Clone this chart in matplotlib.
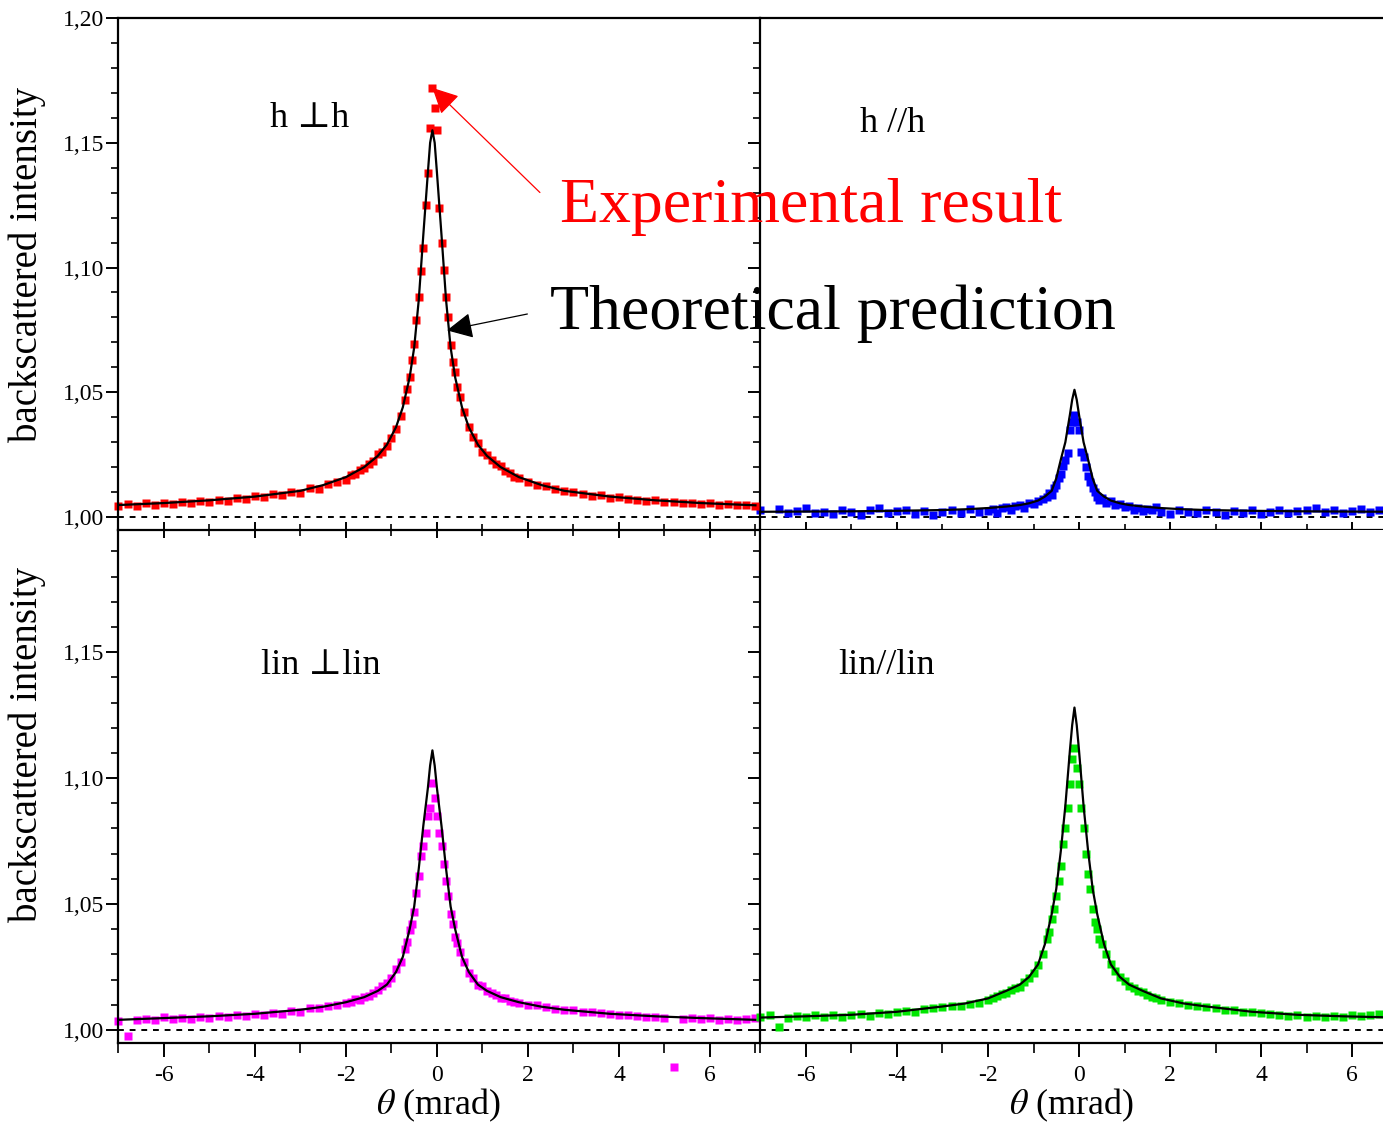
# Coherent backscattering cones: experiment vs theory, four polarisation channels
import matplotlib.pyplot as plt
from matplotlib.ticker import MultipleLocator, FuncFormatter
import numpy as np

# angles of the measured points (mrad), shared by the four channels
exp_theta = [-7.0, -6.8, -6.6, -6.4, -6.2, -6.0, -5.8, -5.6, -5.4, -5.2, -5.0, -4.8, -4.6,
             -4.4, -4.2, -4.0, -3.8, -3.6, -3.4, -3.2, -3.0, -2.8, -2.6, -2.4, -2.2,
             -2.0, -1.9, -1.8, -1.7, -1.6, -1.5, -1.4, -1.3, -1.2, -1.1, -1.0, -0.9, -0.8,
             -0.7, -0.65, -0.6, -0.55, -0.5, -0.45, -0.4, -0.35, -0.3, -0.25, -0.2, -0.15,
             -0.1, -0.05, 0.0, 0.05, 0.1, 0.15, 0.2, 0.25, 0.3, 0.35, 0.4, 0.45, 0.5,
             0.6, 0.7, 0.8, 0.9, 1.0, 1.1, 1.2, 1.3, 1.4, 1.5, 1.6, 1.7, 1.8,
             2.0, 2.2, 2.4, 2.6, 2.8, 3.0, 3.2, 3.4, 3.6, 3.8, 4.0, 4.2, 4.4, 4.6, 4.8,
             5.0, 5.2, 5.4, 5.6, 5.8, 6.0, 6.2, 6.4, 6.6, 6.8, 7.0]

exp_h_perp = [1.0045, 1.0052, 1.0046, 1.0055, 1.0050, 1.0058, 1.0053, 1.0061, 1.0057, 1.0066,
              1.0062, 1.0070, 1.0066, 1.0078, 1.0072, 1.0084, 1.0079, 1.0092, 1.0088, 1.0101,
              1.0098, 1.0116, 1.0113, 1.0133, 1.0140,
              1.0150, 1.0168, 1.0172, 1.0190, 1.0196, 1.0214, 1.0226, 1.0252, 1.0262, 1.0283,
              1.0318, 1.0352, 1.0405,
              1.0470, 1.0515, 1.0560, 1.0630, 1.0695, 1.0790, 1.0880, 1.0985, 1.1080, 1.1250,
              1.1380, 1.1560, 1.1720, 1.1640, 1.1550, 1.1240, 1.1100, 1.0990, 1.0880, 1.0800,
              1.0690, 1.0620, 1.0580, 1.0520, 1.0480,
              1.0420, 1.0360, 1.0322, 1.0296, 1.0262, 1.0250, 1.0228, 1.0212, 1.0205, 1.0186,
              1.0178, 1.0162, 1.0158,
              1.0142, 1.0128, 1.0125, 1.0112, 1.0104, 1.0100, 1.0092, 1.0085, 1.0088, 1.0078,
              1.0080, 1.0072, 1.0070, 1.0066, 1.0069, 1.0060, 1.0062, 1.0056, 1.0058, 1.0052,
              1.0056, 1.0049, 1.0052, 1.0047, 1.0050, 1.0044]

exp_h_par = [1.0028, 0.9925, 1.0032, 1.0018, 1.0024, 1.0035, 1.0016, 1.0022, 1.0012, 1.0028,
             1.0020, 1.0008, 1.0030, 1.0036, 1.0018, 1.0024, 1.0030, 1.0014, 1.0026, 1.0010,
             1.0022, 1.0030, 1.0018, 1.0034, 1.0020,
             1.0026, 1.0032, 1.0018, 1.0036, 1.0040, 1.0028, 1.0044, 1.0050, 1.0038, 1.0056,
             1.0052, 1.0066, 1.0072,
             1.0080, 1.0096, 1.0090, 1.0118, 1.0130, 1.0158, 1.0172, 1.0205, 1.0230, 1.0255,
             1.0350, 1.0380, 1.0410, 1.0380, 1.0350, 1.0260, 1.0240, 1.0200, 1.0165, 1.0140,
             1.0118, 1.0100, 1.0082, 1.0070, 1.0076,
             1.0058, 1.0066, 1.0048, 1.0052, 1.0040, 1.0046, 1.0030, 1.0038, 1.0024, 1.0034,
             1.0028, 1.0040, 1.0022,
             1.0012, 1.0030, 1.0022, 1.0016, 1.0028, 1.0020, 1.0010, 1.0026, 1.0018, 1.0030,
             1.0014, 1.0022, 1.0028, 1.0016, 1.0024, 1.0030, 1.0036, 1.0020, 1.0028, 1.0018,
             1.0026, 1.0034, 1.0020, 1.0030, 1.0038, 1.0026]

exp_lin_perp = [1.0035, 0.9975, 1.0038, 1.0044, 1.0040, 1.0050, 1.0042, 1.0047, 1.0043, 1.0052,
                1.0048, 1.0055, 1.0050, 1.0058, 1.0054, 1.0062, 1.0058, 1.0068, 1.0064, 1.0074,
                1.0070, 1.0085, 1.0088, 1.0095, 1.0100,
                1.0105, 1.0110, 1.0122, 1.0118, 1.0130, 1.0135, 1.0148, 1.0160, 1.0175, 1.0185,
                1.0208, 1.0240, 1.0268,
                1.0320, 1.0350, 1.0395, 1.0420, 1.0470, 1.0545, 1.0610, 1.0690, 1.0730, 1.0780,
                1.0850, 1.0880, 1.0980, 1.0920, 1.0850, 1.0780, 1.0730, 1.0660, 1.0590, 1.0530,
                1.0460, 1.0420, 1.0370, 1.0345, 1.0310,
                1.0270, 1.0225, 1.0205, 1.0180, 1.0175, 1.0155, 1.0148, 1.0140, 1.0128, 1.0125,
                1.0116, 1.0112, 1.0108,
                1.0100, 1.0098, 1.0090, 1.0084, 1.0080, 1.0078, 1.0072, 1.0070, 1.0066, 1.0062,
                1.0060, 1.0058, 1.0055, 1.0052, 1.0050, 1.0046, 0.9852, 1.0044, 1.0048, 1.0042,
                1.0046, 1.0040, 1.0044, 1.0038, 1.0042, 1.0046]

exp_lin_par = [1.0050, 1.0058, 1.0010, 1.0048, 1.0055, 1.0050, 1.0058, 1.0053, 1.0060, 1.0052,
               1.0058, 1.0062, 1.0057, 1.0066, 1.0063, 1.0070, 1.0074, 1.0072, 1.0082, 1.0086,
               1.0090, 1.0094, 1.0096, 1.0104, 1.0108,
               1.0118, 1.0125, 1.0135, 1.0142, 1.0148, 1.0158, 1.0165, 1.0172, 1.0190, 1.0205,
               1.0225, 1.0258, 1.0300,
               1.0360, 1.0390, 1.0440, 1.0480, 1.0530, 1.0590, 1.0650, 1.0740, 1.0800, 1.0880,
               1.0975, 1.1076, 1.1120, 1.1040, 1.0975, 1.0880, 1.0800, 1.0700, 1.0620, 1.0560,
               1.0480, 1.0430, 1.0400, 1.0360, 1.0340,
               1.0300, 1.0260, 1.0235, 1.0210, 1.0195, 1.0175, 1.0168, 1.0155, 1.0150, 1.0140,
               1.0132, 1.0125, 1.0120,
               1.0112, 1.0108, 1.0100, 1.0096, 1.0090, 1.0086, 1.0080, 1.0078, 1.0072, 1.0070,
               1.0066, 1.0062, 1.0060, 1.0056, 1.0058, 1.0052, 1.0055, 1.0050, 1.0054, 1.0052,
               1.0058, 1.0055, 1.0060, 1.0062, 1.0058, 1.0060]

# theoretical curves, shared angle grid
th_theta = [-7.0, -6.0, -5.0, -4.0, -3.0, -2.5, -2.0, -1.6, -1.3, -1.1, -0.9, -0.75, -0.6,
            -0.5, -0.4, -0.3, -0.2, -0.15, -0.1, -0.05, 0.0, 0.1, 0.2, 0.3, 0.4, 0.55, 0.7,
            0.9, 1.1, 1.4, 1.8, 2.3, 2.8, 3.8, 4.8, 5.8, 7.0]
th_h_perp = [1.0048, 1.0056, 1.0067, 1.0082, 1.0105, 1.0128, 1.016, 1.020, 1.0245, 1.029,
             1.036, 1.044, 1.056, 1.068, 1.087, 1.113, 1.138, 1.150, 1.155, 1.150, 1.138,
             1.113, 1.087, 1.068, 1.056, 1.044, 1.036, 1.029, 1.0245, 1.020, 1.016, 1.0128,
             1.0105, 1.0082, 1.0067, 1.0056, 1.0047]
th_h_par = [1.0021, 1.0022, 1.0023, 1.0025, 1.0028, 1.0031, 1.0036, 1.0042, 1.0048, 1.0055,
            1.0066, 1.0082, 1.0105, 1.0155, 1.023, 1.030, 1.041, 1.047, 1.051, 1.047, 1.041,
            1.030, 1.023, 1.0155, 1.0105, 1.0082, 1.0066, 1.0055, 1.0048, 1.0042, 1.0036,
            1.0031, 1.0028, 1.0025, 1.0023, 1.0022, 1.0021]
th_lin_perp = [1.0040, 1.0047, 1.0054, 1.0064, 1.0080, 1.0092, 1.0110, 1.0130, 1.0155, 1.0180,
               1.0230, 1.0290, 1.0400, 1.0490, 1.0640, 1.0810, 1.0960, 1.1050, 1.1110, 1.1050,
               1.0960, 1.0810, 1.0640, 1.0490, 1.0400, 1.0290, 1.0230, 1.0180, 1.0155, 1.0130,
               1.0110, 1.0092, 1.0080, 1.0064, 1.0054, 1.0047, 1.0040]
th_lin_par = [1.0049, 1.0054, 1.0060, 1.0072, 1.0093, 1.0105, 1.0125, 1.0155, 1.0180, 1.0210,
              1.0260, 1.0340, 1.0460, 1.0560, 1.0710, 1.0890, 1.1110, 1.1210, 1.1280, 1.1210,
              1.1110, 1.0890, 1.0710, 1.0560, 1.0460, 1.0340, 1.0260, 1.0210, 1.0180, 1.0155,
              1.0125, 1.0105, 1.0093, 1.0072, 1.0060, 1.0054, 1.0049]

panel_labels = ['h \u22a5h', 'h //h', 'lin \u22a5lin', 'lin//lin']
point_colors = ['#ff0000', '#0000ff', '#ff00ff', '#00e600']

plt.rcParams['font.family'] = ['Liberation Serif', 'DejaVu Serif']
plt.rcParams['mathtext.fontset'] = 'stix'

fig = plt.figure(figsize=(13.83, 11.25), dpi=100)
W, H = 1383, 1125
boxes = [(118, 18, 760, 530), (760, 18, 1383, 530),
         (118, 530, 760, 1043), (760, 530, 1383, 1043)]
xlims = [(-7.01, 7.10), (-7.01, 6.68), (-7.01, 7.10), (-7.01, 6.68)]
ylims = [(0.9948, 1.2), (0.9948, 1.2), (0.9948, 1.1985), (0.9948, 1.1985)]
exps = [exp_h_perp, exp_h_par, exp_lin_perp, exp_lin_par]
theories = [th_h_perp, th_h_par, th_lin_perp, th_lin_par]
label_pos = [(-2.8, 1.1596), (-4.1, 1.1576), (-2.55, 1.1445), (-4.24, 1.1445)]
ylabel_y = [0.518, None, 0.581, None]

axes = []
for i in range(4):
    x0, y0, x1, y1 = boxes[i]
    ax = fig.add_axes([x0 / W, 1 - y1 / H, (x1 - x0) / W, (y1 - y0) / H])
    axes.append(ax)
    top = i < 2
    left = i % 2 == 0

    ax.plot(exp_theta, exps[i], 's', ms=5.5, color=point_colors[i], mec='none',
            clip_on=False, zorder=2)
    ax.plot(th_theta, theories[i], color='black', lw=1.6, zorder=3)
    ax.axhline(1.0, color='black', lw=1.4, ls=(0, (3, 3)), zorder=1)

    ax.set_xlim(*xlims[i])
    ax.set_ylim(*ylims[i])

    for s in ['left', 'bottom']:
        ax.spines[s].set_linewidth(1.6)
    ax.spines['right'].set_visible(False)
    ax.spines['top'].set_visible(top)
    ax.spines['top'].set_linewidth(1.6)

    ax.xaxis.set_major_locator(MultipleLocator(2))
    ax.xaxis.set_minor_locator(MultipleLocator(1))
    ax.yaxis.set_major_locator(MultipleLocator(0.05))
    ax.yaxis.set_minor_locator(MultipleLocator(0.01))
    ax.yaxis.set_major_formatter(FuncFormatter(lambda v, p: f'{v:.2f}'.replace('.', ',')))
    ax.xaxis.set_major_formatter(FuncFormatter(lambda v, p: f'{v:g}'))

    ax.tick_params(axis='y', which='major', direction='out', length=9, width=1.4,
                   labelsize=17, labelleft=left, pad=1)
    ax.tick_params(axis='y', which='minor', direction='out', length=5, width=1.2)
    if top:
        ax.tick_params(axis='x', which='major', direction='inout', length=12, width=1.4,
                       labelbottom=False)
        ax.tick_params(axis='x', which='minor', direction='inout', length=9, width=1.2)
    else:
        ax.tick_params(axis='x', which='major', direction='out', length=10, width=1.4,
                       labelsize=17, pad=6)
        ax.tick_params(axis='x', which='minor', direction='out', length=7, width=1.2)
        ax.set_xlabel(r'$\theta$ (mrad)', fontsize=26, labelpad=0)
    if left:
        ax.set_ylabel('backscattered intensity', fontsize=28)
        ax.yaxis.set_label_coords(-0.112, ylabel_y[i])

    ax.text(*label_pos[i], panel_labels[i], fontsize=26, ha='center', va='center',
            family=['Liberation Serif', 'DejaVu Serif'])

# annotations pointing into the first panel; keep that panel on top so they show
ax0 = axes[0]
ax0.set_zorder(10)
ax0.patch.set_visible(False)
k = int(np.argmax(exp_h_perp))
ax0.annotate('Experimental result', xy=(exp_theta[k], exp_h_perp[k]),
             xytext=(560 / W, 1 - 207 / H), textcoords='figure fraction',
             fontsize=46, color='#ff0000', ha='left', va='center',
             arrowprops=dict(arrowstyle='-|>', color='#ff0000', lw=0.9,
                             mutation_scale=40, shrinkA=0, shrinkB=0,
                             relpos=(-0.04, 0.75)),
             annotation_clip=False, zorder=5)
ax0.annotate('Theoretical prediction', xy=(0.22, 1.0748),
             xytext=(550 / W, 1 - 314 / H), textcoords='figure fraction',
             fontsize=46, color='black', ha='left', va='center',
             arrowprops=dict(arrowstyle='-|>', color='black', lw=0.9,
                             mutation_scale=40, shrinkA=0, shrinkB=0,
                             relpos=(-0.04, 0.5)),
             annotation_clip=False, zorder=5)

fig.savefig('out.png', dpi=100)
